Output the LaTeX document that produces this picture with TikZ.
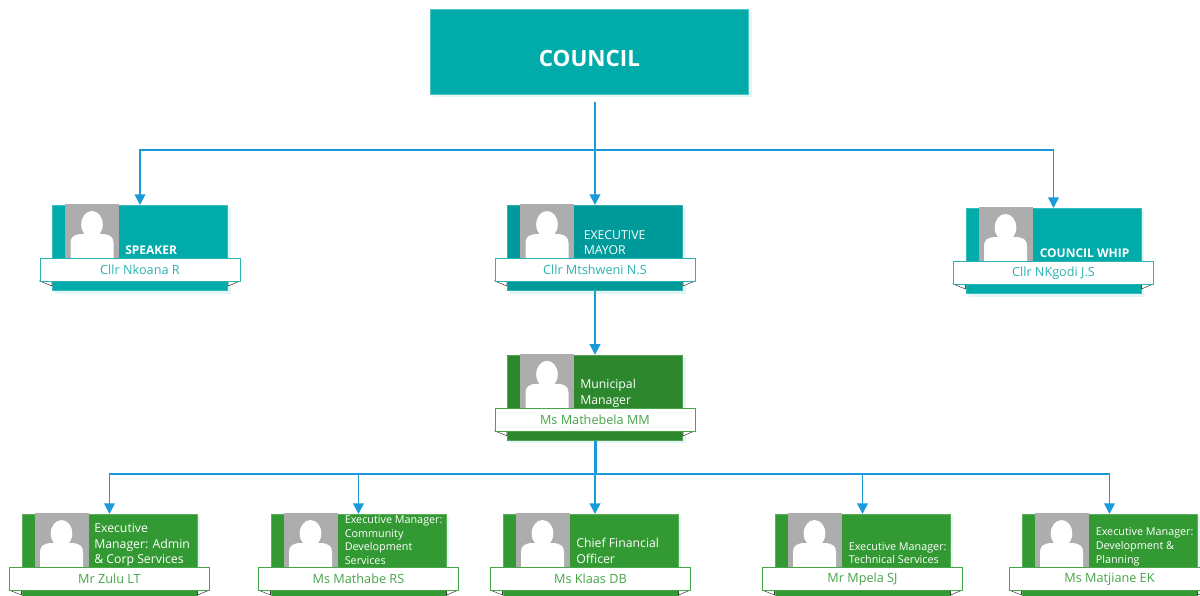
\documentclass[tikz,border=0pt]{standalone}
\usepackage{fontspec}
\setmainfont{Open Sans}
\usetikzlibrary{arrows.meta,shadows}
\definecolor{teal1}{HTML}{00ABA9}
\definecolor{teal2}{HTML}{009A9A}
\definecolor{green1}{HTML}{2D882D}
\definecolor{green2}{HTML}{339933}
\definecolor{tealtxt}{HTML}{2AB3B1}
\definecolor{greentxt}{HTML}{46A546}
\definecolor{conncol}{HTML}{1B9ADA}
\definecolor{shadowcol}{HTML}{E4F5F5}
\definecolor{photocol}{HTML}{ADADAD}
\tikzset{
  cardbody/.style={rectangle,anchor=north west,minimum width=131.5pt,minimum height=64pt,inner sep=0pt,
    general shadow={fill=shadowcol,shadow xshift=2.2pt,shadow yshift=-2.2pt}},
  photobox/.style={rectangle,anchor=north west,fill=photocol,minimum width=40.5pt,minimum height=40.5pt,inner sep=0pt},
  ribbonbox/.style={rectangle,anchor=north west,fill=white,line width=0.7pt,minimum width=150pt,minimum height=17.25pt,inner sep=0pt,font=\fontsize{9.5}{11}\selectfont},
  roletext/.style={anchor=west,align=left,text=white,inner sep=0pt},
  rolebig/.style={roletext,font=\fontsize{9.2}{11.8}\selectfont},
  rolesmall/.style={roletext,font=\fontsize{8.1}{10.3}\selectfont},
  rolebold/.style={roletext,font=\fontsize{9}{11}\selectfont\bfseries},
  conn/.style={draw=conncol,line width=1.35pt},
  arrowconn/.style={conn,-{Triangle[length=8pt,width=8pt]}},
  foldmark/.style={fill=white,draw=black!75,line width=0.4pt,line join=round},
}
% #1 name, #2 L, #3 T, #4 body colour, #5 text colour, #6 person
\newcommand{\orgcard}[6]{%
  \node[cardbody,fill=#4,draw=#4!80!white,line width=0.5pt] (#1) at (#2,#3) {};
  \node[photobox] (#1p) at (#2+13,#3-1) {};
  \begin{scope}[shift={(#2+13,#3-1)}]
    \clip (0,0) rectangle (54,54);
    \fill[white] (27,20.5) ellipse[x radius=10.8,y radius=13.5];
    \fill[white] (5.5,54) -- (5.5,39) .. controls (5.5,33) and (9,31) .. (15,30)
       -- (39,30) .. controls (45,31) and (48.5,33) .. (48.5,39) -- (48.5,54) -- cycle;
  \end{scope}
  \path[foldmark] (#2-12.5,#3+76) -- (#2,#3+81) -- (#2,#3+76) -- cycle;
  \path[foldmark] (#2+188,#3+76) -- (#2+176,#3+81) -- (#2+176,#3+76) -- cycle;
  \node[ribbonbox,draw=#5,text=#5] (#1r) at (#2-12.5,#3+53) {\raisebox{0.75pt}{#6}};
}
\begin{document}
\begin{tikzpicture}[x=0.75pt,y=-0.75pt]
\useasboundingbox (0,0) rectangle (1200,596);
\clip (0,0) rectangle (1200,596);
\node[rectangle,anchor=north west,fill=teal1,draw=teal1!70!white,line width=0.5pt,minimum width=239pt,minimum height=63.75pt,inner sep=0pt,
  general shadow={fill=shadowcol,shadow xshift=2.4pt,shadow yshift=-2.4pt},
  text=white,font=\fontsize{16.8}{20}\selectfont\bfseries] (council) at (429.8,8.8) {\raisebox{-10.9pt}[0pt][0pt]{COUNCIL}};

\orgcard{speaker}{52}{205}{teal1}{tealtxt}{Cllr Nkoana R}
\orgcard{mayor}{507}{205}{teal2}{tealtxt}{Cllr Mtshweni N.S}
\orgcard{whip}{965.5}{208}{teal1}{tealtxt}{Cllr NKgodi J.S}
\orgcard{mm}{507}{354.8}{green1}{greentxt}{Ms Mathebela MM}
\orgcard{zulu}{21.5}{514}{green2}{greentxt}{Mr Zulu LT}
\orgcard{mathabe}{270.5}{514}{green2}{greentxt}{Ms Mathabe RS}
\orgcard{klaas}{502.5}{514}{green2}{greentxt}{Ms Klaas DB}
\orgcard{mpela}{774.5}{514}{green2}{greentxt}{Mr Mpela SJ}
\orgcard{matjiane}{1021.5}{514}{green2}{greentxt}{Ms Matjiane EK}

\node[rolebold] (t1) at (125,250) {SPEAKER};
\node[rolebig] (t2) at (583.5,242.5) {EXECUTIVE\\MAYOR};
\node[rolebold] (t3) at (1039.5,253) {COUNCIL WHIP};
\node[rolebig] (t4) at (580,393.5) {Municipal\\Manager};
\node[rolebig] (t5) at (94,545) {Executive\\Manager: Admin\\\&\ Corp Services};
\node[rolesmall] (t6) at (344.5,540) {Executive Manager:\\Community\\Development\\Services};
\node[rolebig] (t7) at (576,551) {Chief Financial\\Officer};
\node[rolesmall] (t8) at (848.5,553) {Executive Manager:\\Technical Services};
\node[rolesmall] (t9) at (1095.5,547) {Executive Manager:\\Development \&\\Planning};

% connectors
\coordinate (cstart) at (mayor.north |- 0,102);
\coordinate (cbus) at (mayor.north |- 0,150);
\coordinate (mbus) at (mayor.north |- 0,474);
\draw[arrowconn] (cstart) -- (mayor.north);
\draw[arrowconn] (cbus) -| (speaker.north);
\draw[arrowconn] (cbus) -| (whip.north);
\draw[arrowconn] (mayor.south) -- (mm.north);
\draw[conn] (mm.south) -- (mbus);
\draw[conn] ([xshift=0.75pt]mm.south) -- ([xshift=0.75pt]mbus);
\draw[arrowconn] (mbus) -| (zulu.north);
\draw[arrowconn] (mbus) -| (mathabe.north);
\draw[arrowconn] (mbus) -- (mbus |- klaas.north);
\draw[arrowconn] (mbus) -| (mpela.north);
\draw[arrowconn] (mbus) -| (matjiane.north);
\end{tikzpicture}
\end{document}
